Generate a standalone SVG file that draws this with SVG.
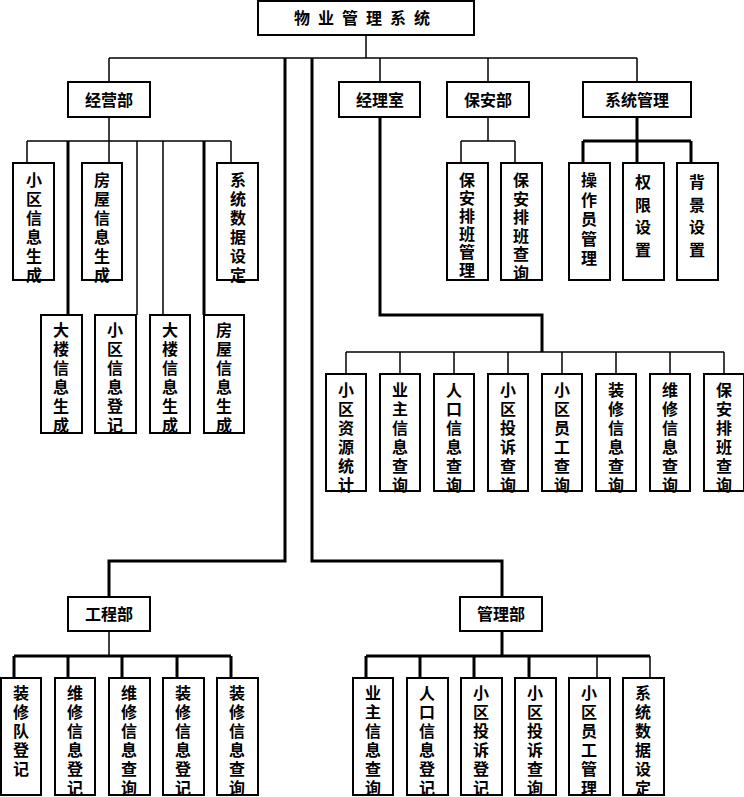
<svg xmlns="http://www.w3.org/2000/svg" width="744" height="797" viewBox="0 0 744 797">
<style>
rect{fill:#fff;stroke:#000;stroke-width:2}
text{font-family:"Liberation Sans","Noto Sans CJK SC",sans-serif;font-size:16px;font-weight:bold;fill:#000;text-anchor:middle;dominant-baseline:central}
.c line,.c polyline{stroke:#000;stroke-width:1.5;fill:none}
.c .t{stroke-width:3}
</style>
<rect width="744" height="797" style="stroke:none"/>
<g class="c" id="connectors">
<line x1="366" y1="35" x2="366" y2="58"/>
<line x1="109" y1="58" x2="637" y2="58"/>
<line x1="109" y1="58" x2="109" y2="82"/><line x1="380" y1="58" x2="380" y2="82"/><line x1="488" y1="58" x2="488" y2="82"/><line x1="637" y1="58" x2="637" y2="82"/>
<polyline class="t" points="285,58 285,561 109,561 109,597"/>
<polyline class="t" points="312,58 312,561 502,561 502,597"/>
<line x1="109" y1="117" x2="109" y2="141"/>
<line x1="27" y1="141" x2="231" y2="141"/>
<line x1="27" y1="141" x2="27" y2="163"/><line x1="109" y1="141" x2="109" y2="163"/><line x1="231" y1="141" x2="231" y2="163"/>
<line class="t" x1="68" y1="141" x2="68" y2="315"/><line x1="137" y1="141" x2="137" y2="315"/><line x1="163" y1="141" x2="163" y2="315"/><line class="t" x1="204" y1="141" x2="204" y2="315"/>
<line x1="488" y1="117" x2="488" y2="141"/><line x1="461" y1="141" x2="515" y2="141"/><line x1="461" y1="141" x2="461" y2="163"/><line x1="515" y1="141" x2="515" y2="163"/>
<line class="t" x1="637" y1="117" x2="637" y2="141"/><line class="t" x1="583" y1="141" x2="691" y2="141"/><line class="t" x1="583" y1="141" x2="583" y2="163"/><line class="t" x1="637" y1="141" x2="637" y2="163"/><line class="t" x1="691" y1="141" x2="691" y2="163"/>
<polyline class="t" points="380,117 380,315 542,315 542,352"/>
<line x1="346" y1="352" x2="724" y2="352"/>
<line x1="346" y1="352" x2="346" y2="374"/><line x1="400" y1="352" x2="400" y2="374"/><line x1="454" y1="352" x2="454" y2="374"/><line x1="508" y1="352" x2="508" y2="374"/><line x1="562" y1="352" x2="562" y2="374"/><line x1="616" y1="352" x2="616" y2="374"/><line x1="670" y1="352" x2="670" y2="374"/><line x1="724" y1="352" x2="724" y2="374"/>
<line x1="109" y1="631" x2="109" y2="656"/>
<line class="t" x1="14" y1="656" x2="231" y2="656"/>
<line class="t" x1="14" y1="656" x2="14" y2="678"/><line class="t" x1="68" y1="656" x2="68" y2="678"/><line class="t" x1="122" y1="656" x2="122" y2="678"/><line class="t" x1="177" y1="656" x2="177" y2="678"/><line class="t" x1="231" y1="656" x2="231" y2="678"/>
<line class="t" x1="502" y1="631" x2="502" y2="656"/>
<line class="t" x1="366" y1="656" x2="650" y2="656"/>
<line class="t" x1="366" y1="656" x2="366" y2="678"/><line class="t" x1="420" y1="656" x2="420" y2="678"/><line class="t" x1="474" y1="656" x2="474" y2="678"/><line class="t" x1="529" y1="656" x2="529" y2="678"/><line x1="597" y1="656" x2="597" y2="678"/><line x1="650" y1="656" x2="650" y2="678"/>
</g>
<g id="root"><rect x="258" y="1" width="216" height="34"/><text x="366" y="18" style="letter-spacing:8px">物业管理系统</text></g>
<g id="jyb"><rect x="68" y="82" width="82" height="35"/><text x="109" y="100">经营部</text></g>
<g id="jls"><rect x="339" y="82" width="81" height="35"/><text x="380" y="100">经理室</text></g>
<g id="bab"><rect x="447" y="82" width="82" height="35"/><text x="488" y="100">保安部</text></g>
<g id="xtgl"><rect x="583" y="82" width="108" height="35"/><text x="637" y="100">系统管理</text></g>
<g id="gcb"><rect x="68" y="597" width="82" height="34"/><text x="109" y="614">工程部</text></g>
<g id="glb"><rect x="460" y="597" width="82" height="34"/><text x="501" y="614">管理部</text></g>

<g id="a1"><rect x="13" y="163" width="41" height="117"/><text x="34" y="180"><tspan x="34">小</tspan><tspan x="34" dy="19">区</tspan><tspan x="34" dy="19">信</tspan><tspan x="34" dy="19">息</tspan><tspan x="34" dy="19">生</tspan><tspan x="34" dy="19">成</tspan></text></g>
<g id="a2"><rect x="82" y="163" width="40" height="117"/><text x="102" y="180"><tspan x="102">房</tspan><tspan x="102" dy="19">屋</tspan><tspan x="102" dy="19">信</tspan><tspan x="102" dy="19">息</tspan><tspan x="102" dy="19">生</tspan><tspan x="102" dy="19">成</tspan></text></g>
<g id="a3"><rect x="217" y="163" width="41" height="117"/><text x="238" y="180"><tspan x="238">系</tspan><tspan x="238" dy="19">统</tspan><tspan x="238" dy="19">数</tspan><tspan x="238" dy="19">据</tspan><tspan x="238" dy="19">设</tspan><tspan x="238" dy="19">定</tspan></text></g>
<g id="b1"><rect x="41" y="315" width="41" height="118"/><text x="61" y="330"><tspan x="61">大</tspan><tspan x="61" dy="19">楼</tspan><tspan x="61" dy="19">信</tspan><tspan x="61" dy="19">息</tspan><tspan x="61" dy="19">生</tspan><tspan x="61" dy="19">成</tspan></text></g>
<g id="b2"><rect x="95" y="315" width="41" height="118"/><text x="115" y="330"><tspan x="115">小</tspan><tspan x="115" dy="19">区</tspan><tspan x="115" dy="19">信</tspan><tspan x="115" dy="19">息</tspan><tspan x="115" dy="19">登</tspan><tspan x="115" dy="19">记</tspan></text></g>
<g id="b3"><rect x="150" y="315" width="40" height="118"/><text x="170" y="330"><tspan x="170">大</tspan><tspan x="170" dy="19">楼</tspan><tspan x="170" dy="19">信</tspan><tspan x="170" dy="19">息</tspan><tspan x="170" dy="19">生</tspan><tspan x="170" dy="19">成</tspan></text></g>
<g id="b4"><rect x="204" y="315" width="40" height="118"/><text x="224" y="330"><tspan x="224">房</tspan><tspan x="224" dy="19">屋</tspan><tspan x="224" dy="19">信</tspan><tspan x="224" dy="19">息</tspan><tspan x="224" dy="19">生</tspan><tspan x="224" dy="19">成</tspan></text></g>

<g id="s1"><rect x="447" y="163" width="41" height="117"/><text x="467" y="180"><tspan x="467">保</tspan><tspan x="467" dy="18">安</tspan><tspan x="467" dy="18">排</tspan><tspan x="467" dy="18">班</tspan><tspan x="467" dy="18">管</tspan><tspan x="467" dy="18">理</tspan></text></g>
<g id="s2"><rect x="501" y="163" width="41" height="117"/><text x="521" y="180"><tspan x="521">保</tspan><tspan x="521" dy="18.5">安</tspan><tspan x="521" dy="18.5">排</tspan><tspan x="521" dy="18.5">班</tspan><tspan x="521" dy="18.5">查</tspan><tspan x="521" dy="18.5">询</tspan></text></g>
<g id="x1"><rect x="569" y="163" width="41" height="117"/><text x="589" y="180"><tspan x="589">操</tspan><tspan x="589" dy="19.5">作</tspan><tspan x="589" dy="19.5">员</tspan><tspan x="589" dy="19.5">管</tspan><tspan x="589" dy="19.5">理</tspan></text></g>
<g id="x2"><rect x="623" y="163" width="41" height="117"/><text x="643" y="182"><tspan x="643">权</tspan><tspan x="643" dy="22.5">限</tspan><tspan x="643" dy="22.5">设</tspan><tspan x="643" dy="22.5">置</tspan></text></g>
<g id="x3"><rect x="677" y="163" width="41" height="117"/><text x="697" y="182"><tspan x="697">背</tspan><tspan x="697" dy="22.5">景</tspan><tspan x="697" dy="22.5">设</tspan><tspan x="697" dy="22.5">置</tspan></text></g>

<g id="m1"><rect x="326" y="374" width="40" height="117"/><text x="346" y="390"><tspan x="346">小</tspan><tspan x="346" dy="19">区</tspan><tspan x="346" dy="19">资</tspan><tspan x="346" dy="19">源</tspan><tspan x="346" dy="19">统</tspan><tspan x="346" dy="19">计</tspan></text></g>
<g id="m2"><rect x="380" y="374" width="40" height="117"/><text x="400" y="390"><tspan x="400">业</tspan><tspan x="400" dy="19">主</tspan><tspan x="400" dy="19">信</tspan><tspan x="400" dy="19">息</tspan><tspan x="400" dy="19">查</tspan><tspan x="400" dy="19">询</tspan></text></g>
<g id="m3"><rect x="434" y="374" width="40" height="117"/><text x="454" y="390"><tspan x="454">人</tspan><tspan x="454" dy="19">口</tspan><tspan x="454" dy="19">信</tspan><tspan x="454" dy="19">息</tspan><tspan x="454" dy="19">查</tspan><tspan x="454" dy="19">询</tspan></text></g>
<g id="m4"><rect x="488" y="374" width="40" height="117"/><text x="508" y="390"><tspan x="508">小</tspan><tspan x="508" dy="19">区</tspan><tspan x="508" dy="19">投</tspan><tspan x="508" dy="19">诉</tspan><tspan x="508" dy="19">查</tspan><tspan x="508" dy="19">询</tspan></text></g>
<g id="m5"><rect x="542" y="374" width="40" height="117"/><text x="562" y="390"><tspan x="562">小</tspan><tspan x="562" dy="19">区</tspan><tspan x="562" dy="19">员</tspan><tspan x="562" dy="19">工</tspan><tspan x="562" dy="19">查</tspan><tspan x="562" dy="19">询</tspan></text></g>
<g id="m6"><rect x="596" y="374" width="40" height="117"/><text x="616" y="390"><tspan x="616">装</tspan><tspan x="616" dy="19">修</tspan><tspan x="616" dy="19">信</tspan><tspan x="616" dy="19">息</tspan><tspan x="616" dy="19">查</tspan><tspan x="616" dy="19">询</tspan></text></g>
<g id="m7"><rect x="650" y="374" width="40" height="117"/><text x="670" y="390"><tspan x="670">维</tspan><tspan x="670" dy="19">修</tspan><tspan x="670" dy="19">信</tspan><tspan x="670" dy="19">息</tspan><tspan x="670" dy="19">查</tspan><tspan x="670" dy="19">询</tspan></text></g>
<g id="m8"><rect x="704" y="374" width="40" height="117"/><text x="724" y="390"><tspan x="724">保</tspan><tspan x="724" dy="19">安</tspan><tspan x="724" dy="19">排</tspan><tspan x="724" dy="19">班</tspan><tspan x="724" dy="19">查</tspan><tspan x="724" dy="19">询</tspan></text></g>

<g id="g1"><rect x="1" y="678" width="40" height="117"/><text x="21" y="693"><tspan x="21">装</tspan><tspan x="21" dy="19">修</tspan><tspan x="21" dy="19">队</tspan><tspan x="21" dy="19">登</tspan><tspan x="21" dy="19">记</tspan></text></g>
<g id="g2"><rect x="55" y="678" width="40" height="117"/><text x="75" y="693"><tspan x="75">维</tspan><tspan x="75" dy="19">修</tspan><tspan x="75" dy="19">信</tspan><tspan x="75" dy="19">息</tspan><tspan x="75" dy="19">登</tspan><tspan x="75" dy="19">记</tspan></text></g>
<g id="g3"><rect x="109" y="678" width="41" height="117"/><text x="129" y="693"><tspan x="129">维</tspan><tspan x="129" dy="19">修</tspan><tspan x="129" dy="19">信</tspan><tspan x="129" dy="19">息</tspan><tspan x="129" dy="19">查</tspan><tspan x="129" dy="19">询</tspan></text></g>
<g id="g4"><rect x="163" y="678" width="41" height="117"/><text x="183" y="693"><tspan x="183">装</tspan><tspan x="183" dy="19">修</tspan><tspan x="183" dy="19">信</tspan><tspan x="183" dy="19">息</tspan><tspan x="183" dy="19">登</tspan><tspan x="183" dy="19">记</tspan></text></g>
<g id="g5"><rect x="217" y="678" width="41" height="117"/><text x="237" y="693"><tspan x="237">装</tspan><tspan x="237" dy="19">修</tspan><tspan x="237" dy="19">信</tspan><tspan x="237" dy="19">息</tspan><tspan x="237" dy="19">查</tspan><tspan x="237" dy="19">询</tspan></text></g>

<g id="p1"><rect x="353" y="678" width="40" height="117"/><text x="373" y="693"><tspan x="373">业</tspan><tspan x="373" dy="19">主</tspan><tspan x="373" dy="19">信</tspan><tspan x="373" dy="19">息</tspan><tspan x="373" dy="19">查</tspan><tspan x="373" dy="19">询</tspan></text></g>
<g id="p2"><rect x="407" y="678" width="41" height="117"/><text x="427" y="693"><tspan x="427">人</tspan><tspan x="427" dy="19">口</tspan><tspan x="427" dy="19">信</tspan><tspan x="427" dy="19">息</tspan><tspan x="427" dy="19">登</tspan><tspan x="427" dy="19">记</tspan></text></g>
<g id="p3"><rect x="461" y="678" width="41" height="117"/><text x="481" y="693"><tspan x="481">小</tspan><tspan x="481" dy="19">区</tspan><tspan x="481" dy="19">投</tspan><tspan x="481" dy="19">诉</tspan><tspan x="481" dy="19">登</tspan><tspan x="481" dy="19">记</tspan></text></g>
<g id="p4"><rect x="515" y="678" width="41" height="117"/><text x="535" y="693"><tspan x="535">小</tspan><tspan x="535" dy="19">区</tspan><tspan x="535" dy="19">投</tspan><tspan x="535" dy="19">诉</tspan><tspan x="535" dy="19">查</tspan><tspan x="535" dy="19">询</tspan></text></g>
<g id="p5"><rect x="569" y="678" width="41" height="117"/><text x="589" y="693"><tspan x="589">小</tspan><tspan x="589" dy="19">区</tspan><tspan x="589" dy="19">员</tspan><tspan x="589" dy="19">工</tspan><tspan x="589" dy="19">管</tspan><tspan x="589" dy="19">理</tspan></text></g>
<g id="p6"><rect x="623" y="678" width="41" height="117"/><text x="643" y="693"><tspan x="643">系</tspan><tspan x="643" dy="19">统</tspan><tspan x="643" dy="19">数</tspan><tspan x="643" dy="19">据</tspan><tspan x="643" dy="19">设</tspan><tspan x="643" dy="19">定</tspan></text></g>
</svg>
